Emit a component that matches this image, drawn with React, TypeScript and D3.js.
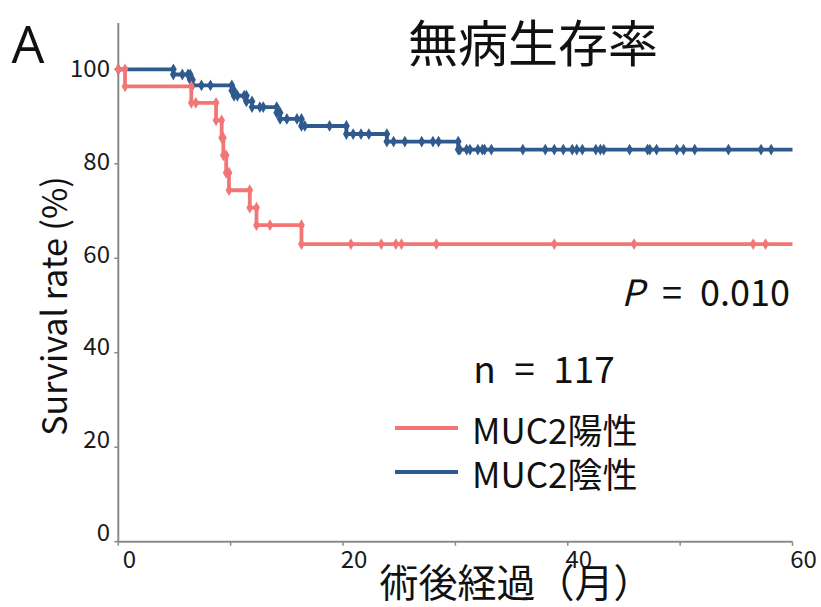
import React from "react";
import * as d3 from "d3";

const xTicks = [0, 20, 40, 60];
const xMinorTicks = [0, 10, 20, 30, 40, 50, 60];
const yTicks = [0, 20, 40, 60, 80, 100];

// MUC2 positive (red)
const redEventTimes = [0.6, 6.5, 8.7, 9.2, 9.35, 9.6, 9.85, 11.7, 12.3, 16.3];
const redEventSurv = [96.4, 92.9, 89.2, 85.5, 81.8, 78.1, 74.4, 70.7, 67.0, 63.0];
const redCensor = [6.9, 13.5, 20.7, 23.4, 24.7, 25.2, 28.3, 38.8, 45.9, 56.5, 57.6];

// MUC2 negative (blue)
const blueEventTimes = [4.9, 6.4, 6.6, 10.1, 10.3, 11.4, 11.9, 14.1, 14.4, 16.3, 20.3, 23.9, 30.25];
const blueEventSurv = [98.9, 97.8, 96.6, 95.5, 94.4, 93.2, 92.0, 90.8, 89.5, 88.0, 86.3, 84.7, 83.0];
const blueCensor = [5.7, 6.2, 7.4, 8.2, 10.6, 11.2, 12.6, 12.9, 15.0, 15.9, 16.6, 18.8, 20.9, 21.6, 22.3,
  24.5, 25.5, 27.0, 28.0, 28.5, 30.4, 31.0, 31.3, 32.0, 32.4, 32.6, 33.2, 36.0, 38.0, 38.8, 39.6, 40.4,
  40.8, 41.3, 42.5, 42.9, 43.2, 45.5, 47.1, 47.3, 47.9, 49.7, 50.3, 51.3, 54.3, 57.2, 58.1];

const RED = "#F27676";
const BLUE = "#2F5A8E";
const AXIS = "#8a8a8a";
const FONT = "'Noto Sans CJK JP', 'Noto Sans', sans-serif";

const x = d3.scaleLinear().domain([0, 60]).range([118.3, 792.5]);
const y = d3.scaleLinear().domain([0, 100]).range([541.7, 69.3]);

function buildSeries(times: number[], surv: number[], censor: number[]) {
  const pts: [number, number][] = [[0, 100]];
  times.forEach((t, i) => pts.push([t, surv[i]]));
  pts.push([60, surv[surv.length - 1]]);
  const survAt = (t: number) => {
    let s = 100;
    times.forEach((et, i) => { if (et <= t) s = surv[i]; });
    return s;
  };
  const markers: [number, number][] = [[0, 100]];
  times.forEach((t, i) => {
    markers.push([t, i === 0 ? 100 : surv[i - 1]]);
    markers.push([t, surv[i]]);
  });
  censor.forEach((t) => markers.push([t, survAt(t)]));
  return { pts, markers };
}

const line = d3.line<[number, number]>()
  .x((d) => x(d[0]))
  .y((d) => y(d[1]))
  .curve(d3.curveStepAfter);

const diamond = d3.symbol().type(d3.symbolDiamond).size(40)() as string;

function Curve({ times, surv, censor, color }: { times: number[]; surv: number[]; censor: number[]; color: string }) {
  const { pts, markers } = buildSeries(times, surv, censor);
  return (
    <g>
      <path d={line(pts) || ""} fill="none" stroke={color} strokeWidth={3.8} />
      {markers.map((m, i) => (
        <path key={i} d={diamond} transform={`translate(${x(m[0])},${y(m[1])})`} fill={color} />
      ))}
    </g>
  );
}

export default function App() {
  return (
    <svg width={821} height={607} style={{ position: "absolute", left: 0, top: 0, background: "#fff" }}
      fontFamily={FONT}>
      <rect width={821} height={607} fill="#fff" />
      {/* axes */}
      <line x1={x(0)} x2={x(0)} y1={23} y2={y(0) + 1} stroke={AXIS} strokeWidth={2} />
      <line x1={x(0)} x2={x(60)} y1={y(0)} y2={y(0)} stroke={AXIS} strokeWidth={2} />
      {yTicks.map((v) => (
        <line key={"yt" + v} x1={x(0) - 4} x2={x(0)} y1={y(v)} y2={y(v)} stroke={AXIS} strokeWidth={1.5} />
      ))}
      {xMinorTicks.map((v) => (
        <line key={"xt" + v} x1={x(v)} x2={x(v)} y1={y(0)} y2={y(0) + 4} stroke={AXIS} strokeWidth={1.5} />
      ))}
      {yTicks.map((v) => (
        <text key={"yl" + v} x={110} y={y(v) - 3 - 0.08 * (100 - v)} textAnchor="end"
          dominantBaseline="central" fontSize={24} fill="#1a1a1a">{v}</text>
      ))}
      {xTicks.map((v) => (
        <text key={"xl" + v} x={x(v) + 11} y={557} textAnchor="middle"
          dominantBaseline="central" fontSize={24} fill="#1a1a1a">{v}</text>
      ))}
      {/* curves */}
      <Curve times={blueEventTimes} surv={blueEventSurv} censor={blueCensor} color={BLUE} />
      <Curve times={redEventTimes} surv={redEventSurv} censor={redCensor} color={RED} />
      {/* titles */}
      <text x={28} y={42} textAnchor="middle" dominantBaseline="central" fontSize={52} fill="#111"
        fontFamily="'Open Sans', 'Noto Sans', sans-serif">A</text>
      <text x={533} y={40} textAnchor="middle" dominantBaseline="central" fontSize={50} fill="#111">無病生存率</text>
      <text transform="translate(52,306) rotate(-90)" textAnchor="middle" dominantBaseline="central"
        fontSize={34} fill="#111">Survival rate (%)</text>
      <text x={516} y={580} textAnchor="middle" dominantBaseline="central" fontSize={39} fill="#111">術後経過（月）</text>
      <text x={790} y={290} textAnchor="end" dominantBaseline="central" fontSize={36} fill="#111">
        <tspan fontStyle="italic">P</tspan>{"\u2002=\u20020.010"}
      </text>
      <text x={544} y={367} textAnchor="middle" dominantBaseline="central" fontSize={37} fill="#111">{"n\u2002=\u2002117"}</text>
      <line x1={395} x2={458} y1={428} y2={428} stroke={RED} strokeWidth={3.8} />
      <text x={472} y={428} dominantBaseline="central" fontSize={35} fill="#111">MUC2陽性</text>
      <line x1={395} x2={458} y1={472} y2={472} stroke={BLUE} strokeWidth={3.8} />
      <text x={472} y={472} dominantBaseline="central" fontSize={35} fill="#111">MUC2陰性</text>
    </svg>
  );
}
